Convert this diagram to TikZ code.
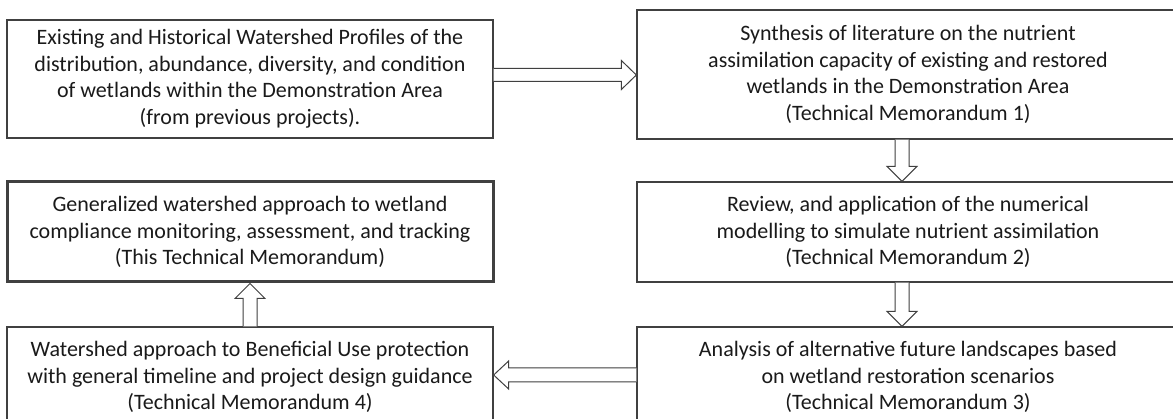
\documentclass[tikz,border=0pt]{standalone}
\usepackage{fontspec}
\setmainfont{Carlito}
\usetikzlibrary{calc}
\definecolor{linec}{HTML}{404040}
\definecolor{textc}{HTML}{1A1A1A}
\tikzset{
  box/.style={draw=linec, line width=1.3pt, fill=white, text=textc, align=center,
    inner sep=0pt, font=\fontsize{22}{26.5}\selectfont},
  leftbox/.style={box, minimum width=486, minimum height=100},
  rightbox/.style={box, minimum width=542, minimum height=100},
  thickbox/.style={line width=3pt},
  blockarrow/.style={draw=linec, line width=1pt, fill=white, line join=miter},
}
\begin{document}
\begin{tikzpicture}[x=1pt,y=-1pt]
\clip (0,0) rectangle (1173,419);
\fill[white] (0,0) rectangle (1173,419);
\node[leftbox, minimum height=118] (b1) at (250,79) {Existing and Historical Watershed Profiles of the\\distribution, abundance, diversity, and condition\\of wetlands within the Demonstration Area\\(from previous projects).};
\node[rightbox, minimum height=129] (b2) at (908,74.5) {Synthesis of literature on the nutrient\\assimilation capacity of existing and restored\\wetlands in the Demonstration Area\\(Technical Memorandum 1)};
\node[leftbox, thickbox] (b3) at (250,232) {Generalized watershed approach to wetland\\compliance monitoring, assessment, and tracking\\(This Technical Memorandum)};
\node[rightbox] (b4) at (908,232) {Review, and application of the numerical\\modelling to simulate nutrient assimilation\\(Technical Memorandum 2)};
\node[leftbox] (b5) at (250,377) {Watershed approach to Beneficial Use protection\\with general timeline and project design guidance\\(Technical Memorandum 4)};
\node[rightbox] (b6) at (908,377) {Analysis of alternative future landscapes based\\on wetland restoration scenarios\\(Technical Memorandum 3)};
% right arrow b1 -> b2
\coordinate (a1s) at (b1.east |- 0,75);
\coordinate (a1e) at (b2.west |- 0,75);
\draw[blockarrow] ($(a1s)+(0,-6.5)$) -- ($(a1e)+(-15,-6.5)$) -- ($(a1e)+(-15,-14.5)$) -- (a1e)
  -- ($(a1e)+(-15,14.5)$) -- ($(a1e)+(-15,6.5)$) -- ($(a1s)+(0,6.5)$);
% down arrow b2 -> b4
\coordinate (a2s) at (b2.south -| 902,0);
\coordinate (a2e) at (b4.north -| 902,0);
\draw[blockarrow] ($(a2s)+(-7,0)$) -- ($(a2e)+(-7,-15)$) -- ($(a2e)+(-15,-15)$) -- (a2e)
  -- ($(a2e)+(15,-15)$) -- ($(a2e)+(7,-15)$) -- ($(a2s)+(7,0)$);
% down arrow b4 -> b6
\coordinate (a3s) at (b4.south -| 902,0);
\coordinate (a3e) at (b6.north -| 902,0);
\draw[blockarrow] ($(a3s)+(-7,0)$) -- ($(a3e)+(-7,-15)$) -- ($(a3e)+(-15,-15)$) -- (a3e)
  -- ($(a3e)+(15,-15)$) -- ($(a3e)+(7,-15)$) -- ($(a3s)+(7,0)$);
% left arrow b6 -> b5
\coordinate (a4s) at (b6.west |- 0,375);
\coordinate (a4e) at (b5.east |- 0,375);
\draw[blockarrow] ($(a4s)+(0,-7)$) -- ($(a4e)+(15,-7)$) -- ($(a4e)+(15,-14)$) -- (a4e)
  -- ($(a4e)+(15,14)$) -- ($(a4e)+(15,7)$) -- ($(a4s)+(0,7)$);
% up arrow b5 -> b3
\coordinate (a5s) at (b5.north -| 250,0);
\coordinate (a5e) at (b3.south -| 250,0);
\draw[blockarrow] ($(a5s)+(-7,0)$) -- ($(a5e)+(-7,15)$) -- ($(a5e)+(-15,15)$) -- (a5e)
  -- ($(a5e)+(15,15)$) -- ($(a5e)+(7,15)$) -- ($(a5s)+(7,0)$);
\end{tikzpicture}
\end{document}
